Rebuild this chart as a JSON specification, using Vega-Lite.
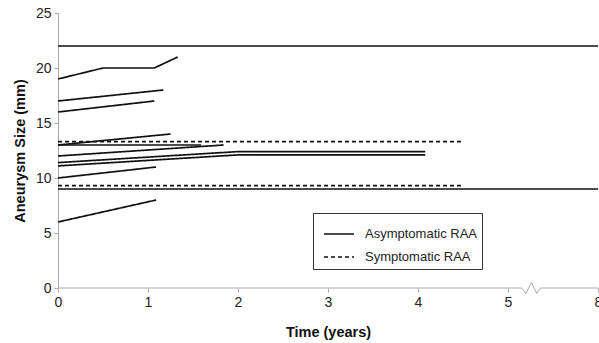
{
  "$schema": "https://vega.github.io/schema/vega-lite/v6.json",
  "width": 540,
  "height": 275,
  "autosize": {"type": "none"},
  "padding": {"left": 58, "top": 13, "right": 1, "bottom": 55},
  "config": {
    "view": {"stroke": null},
    "font": "Liberation Sans",
    "axis": {"labelFont": "Liberation Sans", "titleFont": "Liberation Sans", "labelFontSize": 14, "titleFontSize": 14.5, "labelColor": "#222", "titleColor": "#111", "grid": false, "domainColor": "#aaa", "tickColor": "#aaa", "tickSize": 4, "format": "d"}
  },
  "layer": [
    {
      "data": {"values": [
        {"x": 0, "y": 0}, {"x": 5.15, "y": 0}, {"x": 5.2, "y": -0.5}, {"x": 5.26, "y": 0.5}, {"x": 5.32, "y": -0.5}, {"x": 5.36, "y": 0}, {"x": 6, "y": 0}
      ]},
      "mark": {"type": "line", "color": "#aaa", "strokeWidth": 1},
      "encoding": {
        "x": {"field": "x", "type": "quantitative", "scale": {"domain": [0, 6], "nice": false}},
        "y": {"field": "y", "type": "quantitative", "scale": {"domain": [0, 25], "nice": false}}
      }
    },
    {
      "data": {"values": [
        {"id": "a1", "type": "Asymptomatic RAA", "x": 0, "y": 19},
        {"id": "a1", "type": "Asymptomatic RAA", "x": 0.5, "y": 20},
        {"id": "a1", "type": "Asymptomatic RAA", "x": 1.07, "y": 20},
        {"id": "a1", "type": "Asymptomatic RAA", "x": 1.33, "y": 21},
        {"id": "a2", "type": "Asymptomatic RAA", "x": 0, "y": 17},
        {"id": "a2", "type": "Asymptomatic RAA", "x": 1.17, "y": 18},
        {"id": "a3", "type": "Asymptomatic RAA", "x": 0, "y": 16},
        {"id": "a3", "type": "Asymptomatic RAA", "x": 1.07, "y": 17},
        {"id": "a4", "type": "Asymptomatic RAA", "x": 0, "y": 13},
        {"id": "a4", "type": "Asymptomatic RAA", "x": 1.25, "y": 14},
        {"id": "a5", "type": "Asymptomatic RAA", "x": 0, "y": 13},
        {"id": "a5", "type": "Asymptomatic RAA", "x": 1.59, "y": 13},
        {"id": "a6", "type": "Asymptomatic RAA", "x": 0, "y": 12},
        {"id": "a6", "type": "Asymptomatic RAA", "x": 1.84, "y": 13},
        {"id": "a7", "type": "Asymptomatic RAA", "x": 0, "y": 11.4},
        {"id": "a7", "type": "Asymptomatic RAA", "x": 2, "y": 12.4},
        {"id": "a7", "type": "Asymptomatic RAA", "x": 4.08, "y": 12.4},
        {"id": "a8", "type": "Asymptomatic RAA", "x": 0, "y": 11.1},
        {"id": "a8", "type": "Asymptomatic RAA", "x": 2, "y": 12.1},
        {"id": "a8", "type": "Asymptomatic RAA", "x": 4.08, "y": 12.1},
        {"id": "a9", "type": "Asymptomatic RAA", "x": 0, "y": 10},
        {"id": "a9", "type": "Asymptomatic RAA", "x": 1.09, "y": 11},
        {"id": "a10", "type": "Asymptomatic RAA", "x": 0, "y": 6},
        {"id": "a10", "type": "Asymptomatic RAA", "x": 1.09, "y": 8},
        {"id": "a11", "type": "Asymptomatic RAA", "x": 0, "y": 22},
        {"id": "a11", "type": "Asymptomatic RAA", "x": 6, "y": 22},
        {"id": "a12", "type": "Asymptomatic RAA", "x": 0, "y": 9},
        {"id": "a12", "type": "Asymptomatic RAA", "x": 6, "y": 9},
        {"id": "s1", "type": "Symptomatic RAA", "x": 0, "y": 13.3},
        {"id": "s1", "type": "Symptomatic RAA", "x": 4.5, "y": 13.3},
        {"id": "s2", "type": "Symptomatic RAA", "x": 0, "y": 9.3},
        {"id": "s2", "type": "Symptomatic RAA", "x": 4.5, "y": 9.3}
      ]},
      "mark": {"type": "line", "color": "#111", "strokeWidth": 1.7},
      "encoding": {
        "x": {"field": "x", "type": "quantitative", "scale": {"domain": [0, 6], "nice": false},
          "axis": {"title": "Time (years)", "values": [0, 1, 2, 3, 4, 5, 6], "labelExpr": "datum.value == 6 ? '8' : datum.label", "domain": false, "labelPadding": 3, "titlePadding": 16, "labelFlush": false}},
        "y": {"field": "y", "type": "quantitative", "scale": {"domain": [0, 25], "nice": false},
          "axis": {"title": "Aneurysm Size (mm)", "values": [0, 5, 10, 15, 20, 25], "labelPadding": 3, "titlePadding": 8}},
        "detail": {"field": "id"},
        "strokeDash": {"field": "type", "type": "nominal",
          "scale": {"domain": ["Asymptomatic RAA", "Symptomatic RAA"], "range": [[1, 0], [4, 3]]},
          "legend": {"title": null, "orient": "none", "legendX": 255, "legendY": 200, "symbolType": "M-1,0H1", "symbolSize": 900, "symbolOffset": 5, "symbolStrokeColor": "#111", "symbolStrokeWidth": 1.7, "labelFontSize": 13, "labelFont": "Liberation Sans", "labelColor": "#222", "strokeColor": "#333", "fillColor": "white", "padding": 5, "rowPadding": -8, "labelOffset": 10}
        }
      }
    }
  ]
}
